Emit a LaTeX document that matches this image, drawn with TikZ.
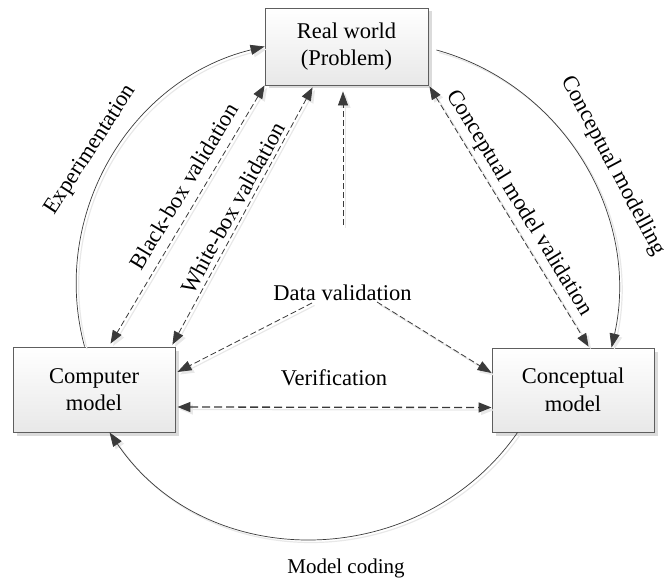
\documentclass[tikz,border=0pt]{standalone}
\usepackage{fontspec}
\setmainfont{Liberation Serif}
\usetikzlibrary{arrows.meta,calc,shadows}
\definecolor{linec}{HTML}{3A3A3A}
\definecolor{boxedge}{HTML}{5E5E5E}
\begin{document}
\begin{tikzpicture}[x=1pt,y=-1pt,
  box/.style={draw=boxedge, line width=0.9pt, top color=white, bottom color=black!9,
    align=center, font=\fontsize{22.5}{27.5}\selectfont, inner sep=0pt,
    drop shadow={shadow xshift=3.5pt, shadow yshift=-3.5pt, fill=black!14, opacity=1}},
  lbl/.style={font=\fontsize{22.5}{26}\selectfont, inner sep=0pt},
  tip/.style={-{Triangle[length=14pt,width=10pt]}},
  dtip/.style={{Triangle[length=13pt,width=10pt]}-{Triangle[length=13pt,width=10pt]}},
  shd/.style={preaction={draw=black!9, line width=1.2pt, transform canvas={shift={(2.5pt,-2.5pt)}}}},
  arcline/.style={shd, draw=linec, fill=none, line width=0.7pt, tip},
  dline/.style={shd, draw=linec, line width=0.8pt, dash pattern=on 6pt off 3pt},
]
\useasboundingbox (0,0) rectangle (664,583);

% boxes
\node[box, minimum width=163pt, minimum height=77pt] (rw) at (346.5,46.5) {Real world\\(Problem)};
\node[box, minimum width=162pt, minimum height=85pt] (comp) at (94,389.5) {Computer\\model};
\node[box, minimum width=162pt, minimum height=84pt] (conc) at (573,390) {Conceptual\\model};

% labels
\node[lbl] (dv) at (342.5,293) {Data validation};
\node[lbl, rotate=57] (lexp) at (91,150) {Experimentation};
\node[lbl, rotate=59] (lbb) at (184,186) {Black-box validation};
\node[lbl, rotate=61] (lwb) at (233,208) {White-box validation};
\node[lbl, rotate=-58.5] (lcmv) at (519,203) {Conceptual model validation};
\node[lbl, rotate=-62] (lcm) at (613,166) {Conceptual modelling};
\node[lbl] (lver) at (334,378) {Verification};
\node[lbl, font=\fontsize{21}{24}\selectfont] (lmc) at (346,568) {Model coding};

% arcs
\draw[arcline] ($(comp.north west)+(72,0)$) .. controls (49.2,215.3) and (129.5,79.6) .. (rw.west);
\draw[arcline] ($(rw.east)+(8,3.5)$) .. controls (564.5,85.4) and (640.8,216.9) .. ($(conc.north west)+(120,0)$);
\draw[arcline] ($(conc.south west)+(26,0)$) .. controls (420.3,572.1) and (207,575.6) .. ($(comp.south west)+(97,0)$);

% double dashed arrows
\draw[dline, dtip] (rw.south west) -- ($(comp.north west)+(98,-3)$);
\draw[dline, dtip] ($(rw.south west)+(48,2)$) -- ($(comp.north east)+(-3,-2)$);
\draw[dline, dtip] ($(rw.south east)+(1,1)$) -- ($(conc.north west)+(97,-1)$);
\draw[dline, dtip, line width=1.3pt, dash pattern=on 8pt off 4pt] ($(comp.east)+(2,17.5)$) -- ($(conc.west)+(0,17.5)$);

% data validation arrows
\coordinate (dvU) at ($(dv)+(0.5,-68)$);
\coordinate (dvL) at ($(dv)+(-30.5,10)$);
\coordinate (dvR) at ($(dv)+(34.5,9)$);
\draw[dline, tip] (dvU) -- ($(rw.south)+(-3.5,6)$);
\draw[dline, tip] (dvL) -- ($(comp.east)+(2,-17.5)$);
\draw[dline, tip] (dvR) -- ($(conc.west)+(0,-17)$);
\end{tikzpicture}
\end{document}
